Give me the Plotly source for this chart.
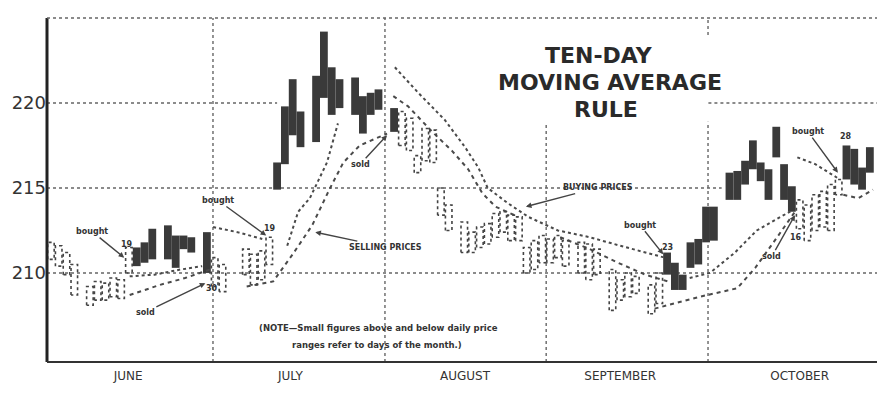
import plotly.graph_objects as go

# trading-day slots, daily low / high, 1 = long position held (solid bar)
days_jun = [0, 1, 2, 3, 5, 6, 7, 8, 9, 10, 11, 12, 13, 15, 16, 17, 18, 20, 21, 22]
lows_jun = [210.8, 210.4, 209.9, 208.7, 208.1, 208.4, 208.4, 208.6, 208.5, 210.0,
            210.4, 210.6, 210.8, 210.8, 210.3, 211.4, 211.2, 210.0, 209.2, 208.9]
highs_jun = [211.8, 211.6, 211.2, 210.5, 209.2, 209.5, 209.4, 209.7, 209.6, 211.5,
             211.5, 211.8, 212.6, 212.8, 212.2, 212.2, 212.1, 212.4, 210.9, 210.5]
long_jun = [0, 0, 0, 0, 0, 0, 0, 0, 0, 0, 1, 1, 1, 1, 1, 1, 1, 1, 0, 0]

days_jul = [25, 26, 27, 28, 29, 30, 31, 32, 34, 35, 36, 37, 39, 40, 41, 42, 44]
lows_jul = [209.9, 209.3, 209.6, 210.5, 214.9, 216.4, 218.1, 217.4, 217.7, 220.3,
            219.3, 219.7, 219.3, 218.2, 219.3, 219.6, 218.3]
highs_jul = [211.4, 211.1, 211.3, 212.1, 216.5, 219.8, 221.4, 219.5, 221.6, 224.2,
             222.1, 221.4, 221.5, 220.4, 220.6, 220.8, 219.7]
long_jul = [0, 0, 0, 0, 1, 1, 1, 1, 1, 1, 1, 1, 1, 1, 1, 1, 1]

days_aug = [45, 46, 47, 48, 49, 50, 51, 53, 54, 55, 56, 57, 58, 59, 60, 61, 62, 63]
lows_aug = [217.5, 217.2, 215.9, 216.6, 216.5, 213.4, 212.5, 211.2, 211.2, 211.5,
            211.7, 212.1, 212.4, 211.9, 211.9, 210.0, 210.2, 210.6]
highs_aug = [219.5, 219.1, 216.9, 218.5, 218.4, 215.0, 214.0, 213.0, 212.4, 212.7,
             212.9, 213.5, 213.6, 213.4, 213.3, 211.5, 211.9, 212.2]
long_aug = [0] * 18

days_sep = [64, 65, 66, 68, 69, 70, 72, 73, 74, 75, 77, 78, 79, 80, 81, 82, 83, 84, 85]
lows_sep = [210.6, 210.9, 210.4, 210.0, 209.6, 209.9, 207.8, 208.4, 208.6, 208.8,
            207.6, 208.2, 209.9, 209.0, 209.0, 210.3, 210.5, 211.8, 211.9]
highs_sep = [212.0, 212.2, 211.9, 211.8, 211.7, 211.4, 210.2, 209.6, 210.0, 209.8,
             209.3, 210.0, 211.2, 210.6, 209.9, 211.8, 212.0, 213.9, 213.9]
long_sep = [0, 0, 0, 0, 0, 0, 0, 0, 0, 0, 0, 0, 1, 1, 1, 1, 1, 1, 1]

days_oct = [87, 88, 89, 90, 91, 92, 93, 94, 95, 96, 97, 98, 99, 100, 101, 102, 103, 104, 105]
lows_oct = [214.3, 214.3, 215.2, 216.1, 215.4, 214.3, 216.8, 214.3, 213.6, 212.6,
            211.9, 212.5, 212.7, 212.5, 214.6, 215.5, 215.2, 214.9, 215.9]
highs_oct = [215.9, 216.0, 216.6, 217.8, 216.5, 216.1, 218.6, 216.4, 215.1, 214.3,
             214.0, 214.6, 214.8, 215.2, 215.5, 217.5, 217.3, 216.2, 217.4]
long_oct = [1, 1, 1, 1, 1, 1, 1, 1, 1, 0, 0, 0, 0, 0, 0, 1, 1, 1, 1]

# moving-average rule lines (None = break in the drawn line)
buy_x = [10.1, 13.3, 16.6, 19.4, None, 20.8, 23.9, 27.1, None,
         30.3, 31.7, 33.2, 35.4, 36.8, None,
         44.1, 47.1, 50.5, 53.1, 54.8, 56.0, 58.6, 61.2, 65.0, 69.1, 73.0, 76.2, 78.7, None,
         81.9, 84.5, 87.7, 90.5, 95.1, None, 95.7, 98.0, 100.8]
buy_y = [209.8, 209.9, 210.2, 210.4, None, 212.7, 212.4, 212.0, None,
         211.6, 213.6, 214.4, 216.5, 218.8, None,
         222.1, 220.6, 219.0, 217.4, 216.2, 215.0, 214.1, 213.3, 212.5, 212.1, 211.6, 211.2, 210.9, None,
         209.7, 210.0, 211.2, 212.5, 213.7, None, 216.8, 216.4, 215.6]

sell_x = [10.1, 14.0, 17.2, 20.4, None,
          25.1, 28.5, 31.0, 33.5, 35.8, 37.5, 39.6, 43.1, None,
          43.9, 45.8, 48.9, 51.4, 53.5, 55.3, 57.0, 59.9, None,
          65.3, 69.1, 72.7, 76.2, 79.1, None,
          77.4, 83.2, 88.0, 90.3, 92.8, 95.4, None, 101.6, 103.5, 105.4]
sell_y = [208.7, 209.3, 209.7, 210.2, None,
          209.2, 209.5, 211.1, 212.8, 215.0, 216.5, 217.5, 218.2, None,
          220.4, 219.8, 218.3, 217.2, 216.1, 214.7, 213.9, 213.3, None,
          212.1, 211.4, 210.6, 209.9, 209.5, None,
          207.9, 208.6, 209.1, 210.3, 211.9, 213.6, None, 214.6, 214.4, 214.9]

months = ["JUNE", "JULY", "AUGUST", "SEPTEMBER", "OCTOBER"]
month_mid = [9.9, 30.7, 53.1, 73.0, 96.0]
month_ends = [20.78, 42.83, 63.5, 84.25]
price_ticks = [210, 215, 220]

days = days_jun + days_jul + days_aug + days_sep + days_oct
lows = lows_jun + lows_jul + lows_aug + lows_sep + lows_oct
highs = highs_jun + highs_jul + highs_aug + highs_sep + highs_oct
longs = long_jun + long_jul + long_aug + long_sep + long_oct

ink = "#333333"
fig = go.Figure()

# lines go under the price bars
fig.add_trace(go.Scatter(x=buy_x, y=buy_y, mode="lines", connectgaps=False,
                         line=dict(color="#4a4a4a", width=2, dash="dot"), hoverinfo="skip"))
fig.add_trace(go.Scatter(x=sell_x, y=sell_y, mode="lines", connectgaps=False,
                         line=dict(color="#4a4a4a", width=2, dash="4px,4px"), hoverinfo="skip"))

# solid bars = long, dotted outlines = out / short
fx = [d for d, lg in zip(days, longs) if lg]
fb = [lo for lo, lg in zip(lows, longs) if lg]
fh = [hi - lo for lo, hi, lg in zip(lows, highs, longs) if lg]
fig.add_trace(go.Bar(x=fx, y=fh, base=fb, width=1.0,
                     marker=dict(color="#3a3a3a", line=dict(width=0))))

ox, oy = [], []
for d, lo, hi, lg in zip(days, lows, highs, longs):
    if not lg:
        ox += [d - 0.42, d - 0.42, d + 0.42, d + 0.42, d - 0.42, None]
        oy += [lo, hi, hi, lo, lo, None]
fig.add_trace(go.Scatter(x=ox, y=oy, mode="lines",
                         line=dict(color="#444444", width=1.6, dash="dot"), hoverinfo="skip"))

# grid lines (broken where the original leaves them out)
grid = dict(color="#666666", width=1.4, dash="dot")
shapes = [
    dict(type="line", xref="x", yref="y", x0=-0.5, x1=106.3, y0=210, y1=210, line=grid, layer="below"),
    dict(type="line", xref="x", yref="y", x0=-0.5, x1=86, y0=215, y1=215, line=grid, layer="below"),
    dict(type="line", xref="x", yref="y", x0=-0.5, x1=29, y0=220, y1=220, line=grid, layer="below"),
    dict(type="line", xref="x", yref="y", x0=84.3, x1=106.3, y0=220, y1=220, line=grid, layer="below"),
    dict(type="line", xref="x", yref="paper", x0=month_ends[0], x1=month_ends[0], y0=0, y1=1, line=grid, layer="below"),
    dict(type="line", xref="x", yref="paper", x0=month_ends[1], x1=month_ends[1], y0=0, y1=1, line=grid, layer="below"),
    dict(type="line", xref="x", yref="y", x0=month_ends[2], x1=month_ends[2], y0=204.76, y1=218.7, line=grid, layer="below"),
    dict(type="line", xref="x", yref="y", x0=month_ends[3], x1=month_ends[3], y0=204.76, y1=218.9, line=grid, layer="below"),
    dict(type="line", xref="x", yref="y", x0=month_ends[3], x1=month_ends[3], y0=224.0, y1=225, line=grid, layer="below"),
    # frame
    dict(type="line", xref="paper", yref="paper", x0=0, x1=0, y0=0, y1=1, line=dict(color="#222", width=3)),
    dict(type="line", xref="paper", yref="paper", x0=0, x1=1, y0=0, y1=0, line=dict(color="#333", width=2)),
    dict(type="line", xref="paper", yref="paper", x0=1, x1=1, y0=0, y1=1, line=dict(color="#333", width=2.5)),
    dict(type="line", xref="paper", yref="paper", x0=0, x1=1, y0=1, y1=1, line=dict(color="#666", width=1.5, dash="dot")),
]

small = dict(family="DejaVu Sans", size=8, color=ink)
arr = dict(showarrow=True, arrowhead=2, arrowsize=0.8, arrowwidth=1.4, arrowcolor="#444", font=small)
notes = [
    dict(text="<b>bought</b>", x=9.4, y=210.9, ax=-32, ay=-26, **arr),
    dict(text="<b>sold</b>", x=19.8, y=209.4, ax=-60, ay=29, **arr),
    dict(text="<b>bought</b>", x=27.6, y=212.2, ax=-48, ay=-35, **arr),
    dict(text="<b>SELLING PRICES</b>", x=33.9, y=212.4, ax=70, ay=15, **arr),
    dict(text="<b>sold</b>", x=43.1, y=218.1, ax=-27, ay=29, **arr),
    dict(text="<b>BUYING PRICES</b>", x=60.9, y=213.9, ax=72, ay=-19, **arr),
    dict(text="<b>bought</b>", x=78.5, y=211.1, ax=-23, ay=-29, **arr),
    dict(text="<b>sold</b>", x=95.4, y=213.4, ax=-23, ay=41, **arr),
    dict(text="<b>bought</b>", x=100.9, y=215.9, ax=-30, ay=-41, **arr),
    dict(text="<b>19</b>", x=9.7, y=211.7, showarrow=False, font=small),
    dict(text="<b>30</b>", x=20.7, y=209.1, showarrow=False, font=small),
    dict(text="<b>19</b>", x=28.1, y=212.6, showarrow=False, font=small),
    dict(text="<b>23</b>", x=79.1, y=211.5, showarrow=False, font=small),
    dict(text="<b>16</b>", x=95.5, y=212.1, showarrow=False, font=small),
    dict(text="<b>28</b>", x=101.9, y=218.0, showarrow=False, font=small),
]
# title block (paper coords of the plot area)
title_font = dict(family="DejaVu Sans", size=22, color="#2a2a2a")
for txt, px, py in [("TEN-DAY", 0.663, 0.890), ("MOVING AVERAGE", 0.676, 0.812), ("RULE", 0.671, 0.735)]:
    notes.append(dict(text="<b>" + txt + "</b>", xref="paper", yref="paper", x=px, y=py,
                      xanchor="center", yanchor="middle", showarrow=False, font=title_font))
note_font = dict(family="DejaVu Sans", size=8.5, color=ink)
notes.append(dict(text="<b>(NOTE—Small figures above and below daily price</b>", xref="paper", yref="paper",
                  x=0.398, y=0.099, xanchor="center", yanchor="middle", showarrow=False, font=note_font))
notes.append(dict(text="<b>ranges refer to days of the month.)</b>", xref="paper", yref="paper",
                  x=0.396, y=0.049, xanchor="center", yanchor="middle", showarrow=False, font=note_font))

fig.update_layout(
    width=885, height=400,
    margin=dict(l=39, r=13, t=10, b=46),
    paper_bgcolor="white", plot_bgcolor="white",
    showlegend=False,
    shapes=shapes,
    annotations=notes,
    xaxis=dict(range=[-0.5, 106.3], showgrid=False, zeroline=False, showline=False,
               tickvals=month_mid, ticktext=months, ticks="", automargin=False,
               ticklabelstandoff=5,
               tickfont=dict(family="DejaVu Sans", size=12, color=ink)),
    yaxis=dict(range=[204.76, 225], showgrid=False, zeroline=False, showline=False,
               tickvals=price_ticks, ticks="", automargin=False,
               tickfont=dict(family="DejaVu Sans", size=18, color=ink)),
)

fig.write_html("out.html")
